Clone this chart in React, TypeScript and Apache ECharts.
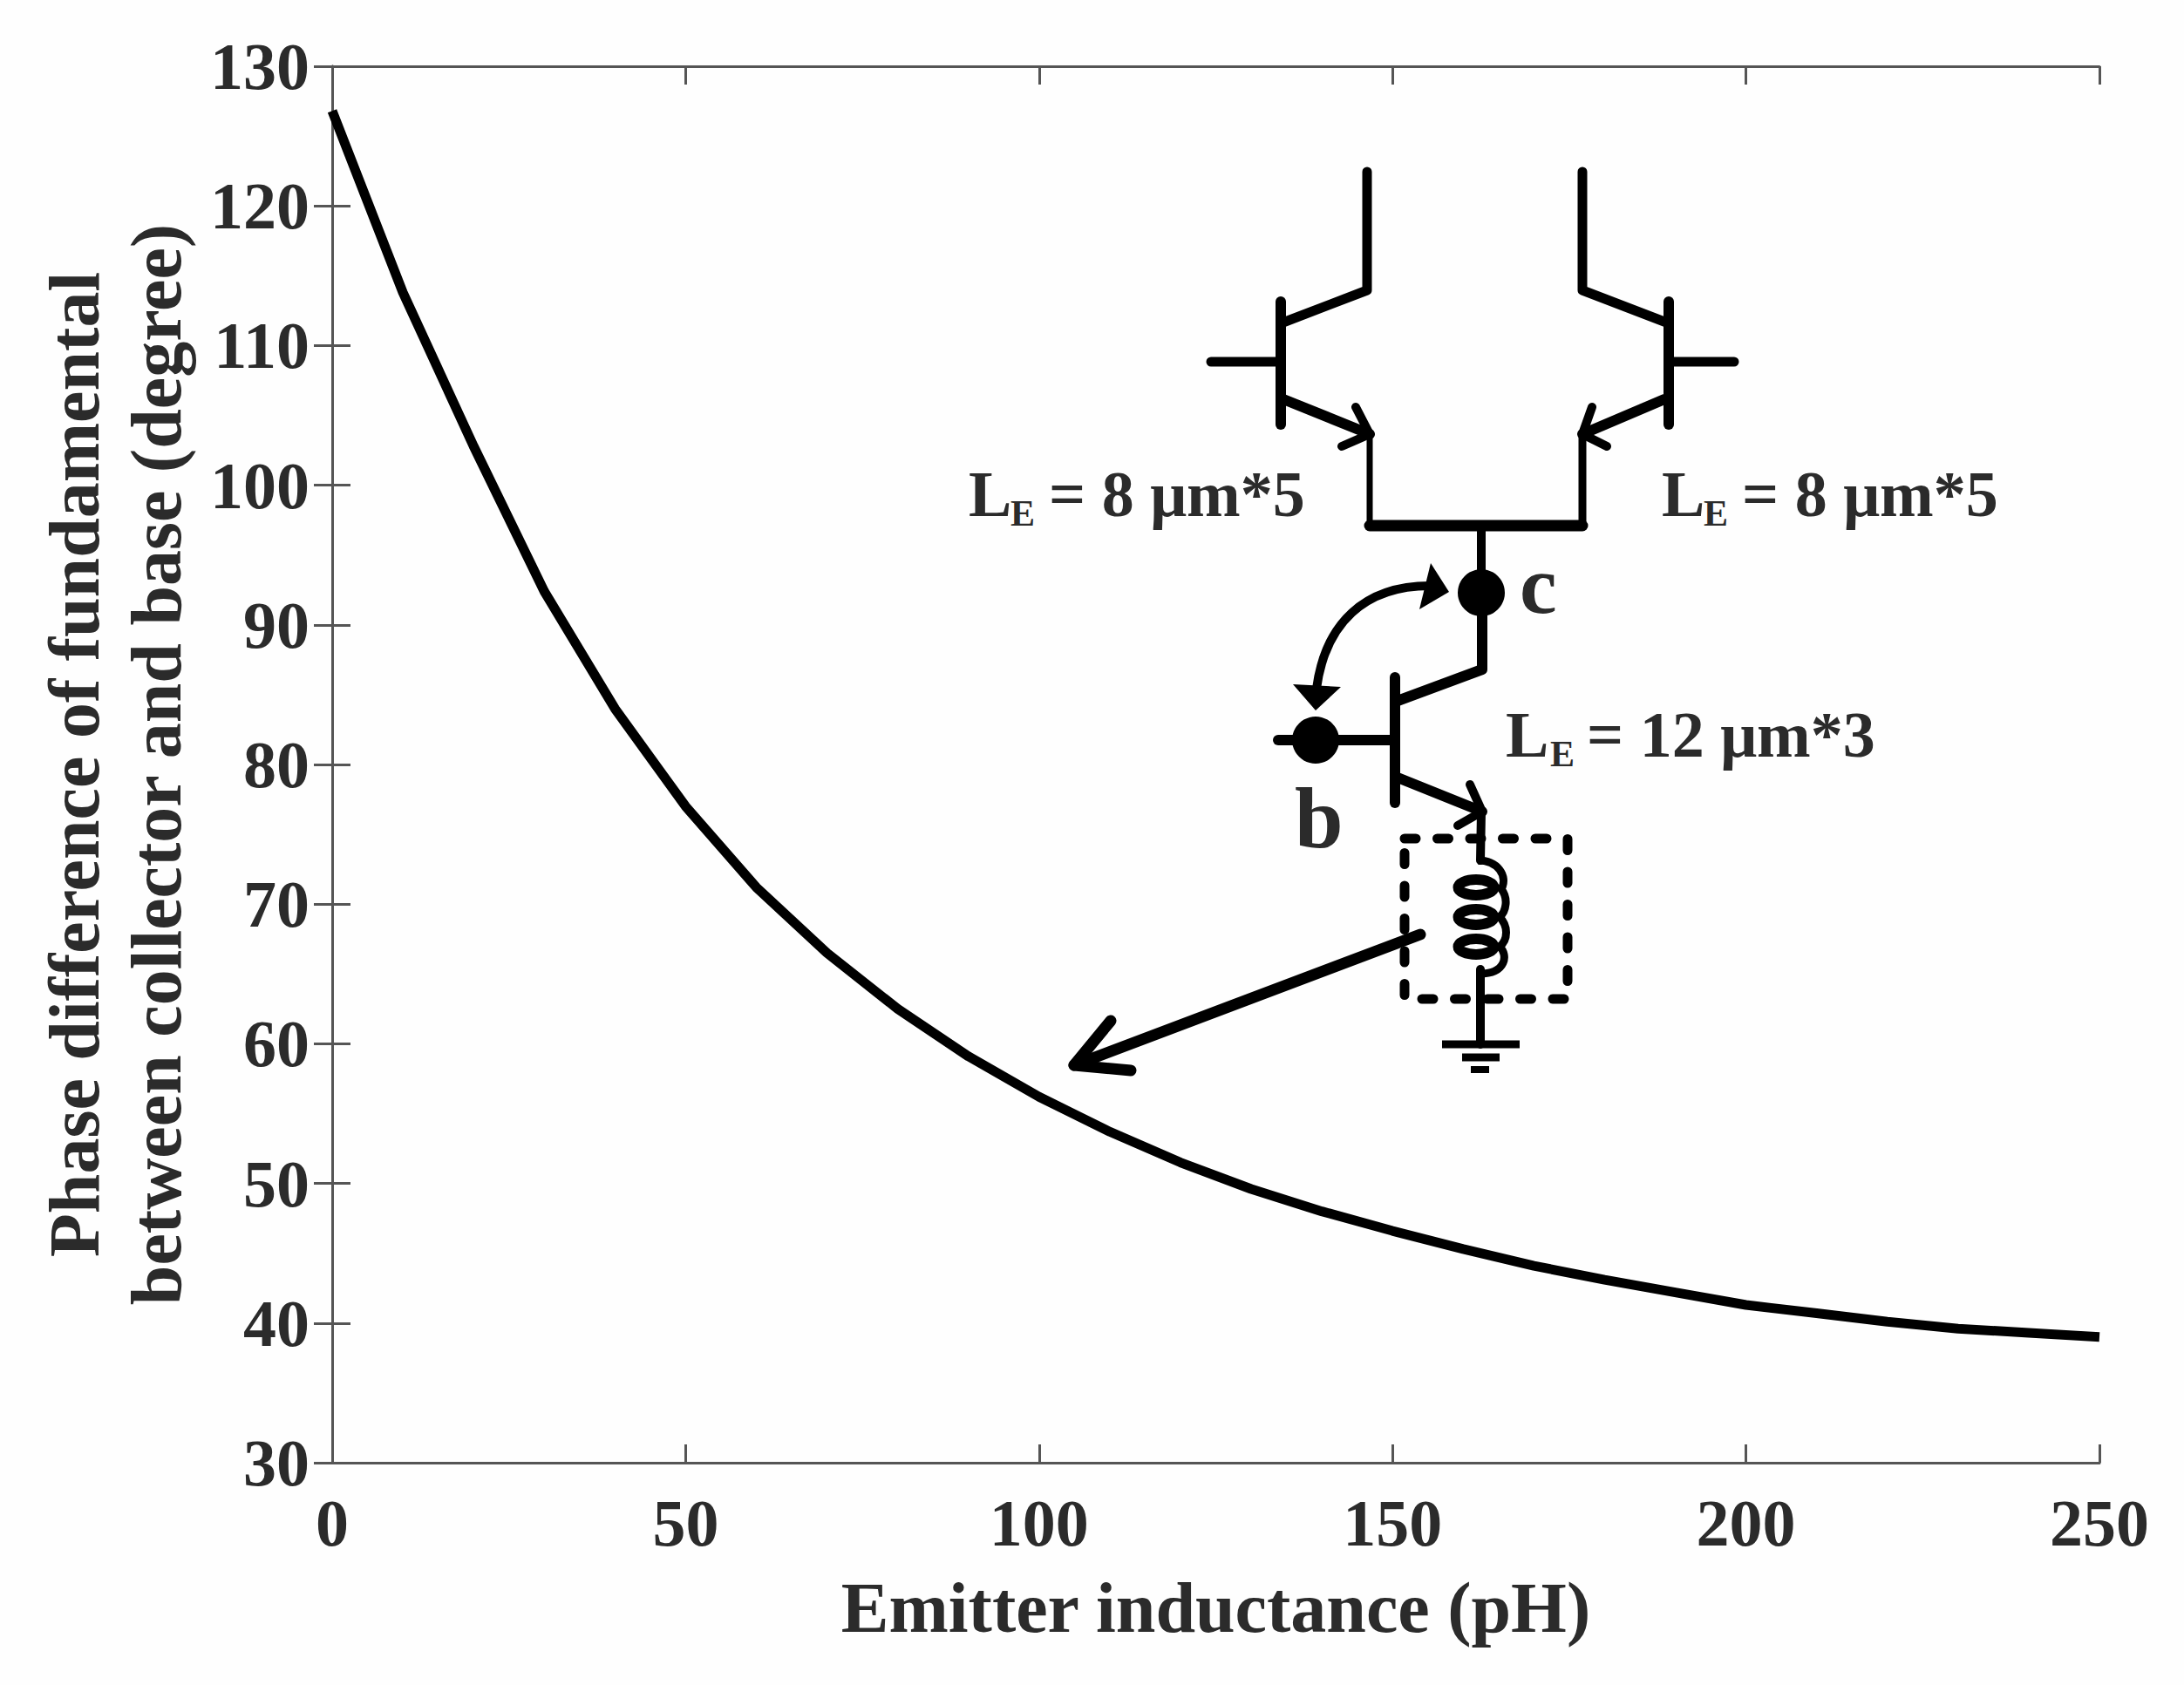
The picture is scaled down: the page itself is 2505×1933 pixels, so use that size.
import { useEffect, useRef } from 'react';
import * as echarts from 'echarts';

const inductance = [0, 10, 20, 30, 40, 50, 60, 70, 80, 90, 100, 110, 120, 130, 140, 150, 160, 170, 180, 190, 200, 210, 220, 230, 240, 250];
const phase = [126.8, 113.8, 102.8, 92.4, 84, 77, 71.2, 66.5, 62.5, 59.1, 56.2, 53.7, 51.5, 49.6, 48, 46.6, 45.3, 44.1, 43.1, 42.2, 41.3, 40.7, 40.1, 39.6, 39.3, 39];

const xTitle = 'Emitter inductance (pH)';
const yTitle = 'Phase difference of fundamental\nbetween collector and base (degree)';

const serif = '"Liberation Serif", "Times New Roman", serif';
const inkText = '#2b2b2b';
const axisGray = '#555555';

// schematic wires in page pixels: [points, line width]
const wires: [number[][], number][] = [
  [[[1568, 197], [1568, 333], [1469, 371]], 11],
  [[[1469, 346], [1469, 487]], 12],
  [[[1389, 415], [1469, 415]], 11],
  [[[1472, 458], [1571, 498]], 12],
  [[[1555, 467], [1571, 498], [1539, 512]], 10],
  [[[1571, 498], [1571, 602]], 7],
  [[[1815, 197], [1815, 333], [1914, 371]], 11],
  [[[1914, 346], [1914, 487]], 12],
  [[[1914, 415], [1989, 415]], 11],
  [[[1909, 458], [1815, 498]], 12],
  [[[1826, 467], [1815, 498], [1843, 512]], 10],
  [[[1815, 498], [1815, 602]], 9],
  [[[1571, 603], [1815, 603]], 13],
  [[[1699, 603], [1699, 680]], 10],
  [[[1700, 680], [1700, 768], [1603, 804]], 12],
  [[[1600, 777], [1600, 921]], 12],
  [[[1466, 849], [1598, 849]], 12],
  [[[1603, 892], [1700, 931]], 12],
  [[[1686, 900], [1700, 931], [1672, 947]], 10],
  [[[1699, 931], [1698, 987]], 10],
  [[[1698, 1112], [1698, 1198]], 10],
  [[[1629, 1072], [1232, 1222]], 13],
  [[[1274, 1171], [1232, 1222], [1297, 1228]], 13],
];

const groundBars = [
  [1654, 1743, 1198, 9],
  [1677, 1720, 1213, 9],
  [1687, 1708, 1227, 8],
];

const arrowHeads: number[][][] = [
  [[1662, 679], [1641, 646], [1628, 699]],
  [[1509, 815], [1483, 785], [1538, 788]],
];

const nodeDots = [
  [1699, 680],
  [1509, 849],
];

const coilRings = [
  [1693, 1018],
  [1693, 1052],
  [1693, 1086],
];

// text pieces: [text, x, baseline, font size]
const schematicTexts: [string, number, number, number][] = [
  ['L', 1111, 592, 74],
  ['E', 1159, 603, 42],
  ['= 8 μm*5', 1203, 592, 74],
  ['L', 1906, 592, 74],
  ['E', 1954, 603, 42],
  ['= 8 μm*5', 1998, 592, 74],
  ['L', 1727, 868, 74],
  ['E', 1778, 879, 42],
  ['= 12 μm*3', 1820, 868, 74],
  ['c', 1743, 703, 96],
  ['b', 1485, 972, 100],
];

const coilPath =
  'M1695 987 C1718 987 1730 1005 1722 1020 C1730 1030 1728 1045 1720 1052 C1730 1062 1730 1078 1720 1086 C1730 1095 1728 1117 1697 1117';
echarts.graphic.registerShape('coil', echarts.graphic.extendPath(coilPath, {}));

function buildGraphic() {
  const items: any[] = [];
  wires.forEach(([points, lineWidth]) => {
    items.push({
      type: 'polyline',
      shape: { points },
      style: { stroke: '#000', fill: 'none', lineWidth, lineCap: 'round', lineJoin: 'round' },
    });
  });
  groundBars.forEach(([x1, x2, y, lineWidth]) => {
    items.push({
      type: 'line',
      shape: { x1, y1: y, x2, y2: y },
      style: { stroke: '#000', lineWidth },
    });
  });
  arrowHeads.forEach((points) => {
    items.push({ type: 'polygon', shape: { points }, style: { fill: '#000' } });
  });
  nodeDots.forEach(([cx, cy]) => {
    items.push({ type: 'circle', shape: { cx, cy, r: 27 }, style: { fill: '#000' } });
  });
  coilRings.forEach(([cx, cy]) => {
    items.push({
      type: 'ellipse',
      shape: { cx, cy, rx: 20.5, ry: 9 },
      style: { stroke: '#000', fill: 'none', lineWidth: 12 },
    });
  });
  items.push({
    type: 'coil',
    style: { stroke: '#000', fill: 'none', lineWidth: 9 },
  });
  // curved double arrow between b and c
  items.push({
    type: 'bezierCurve',
    shape: { x1: 1510, y1: 790, cpx1: 1520, cpy1: 715, cpx2: 1565, cpy2: 672, x2: 1640, y2: 672 },
    style: { stroke: '#000', fill: 'none', lineWidth: 10 },
  });
  // dashed box round the inductor
  items.push({
    type: 'rect',
    shape: { x: 1611, y: 962, width: 187, height: 184 },
    style: { stroke: '#000', fill: 'none', lineWidth: 11, lineDash: [13, 24.5], lineCap: 'round' },
  });
  schematicTexts.forEach(([text, x, baseline, size]) => {
    items.push({
      type: 'text',
      x,
      y: baseline - size * 0.34,
      style: {
        text,
        fill: inkText,
        font: `bold ${size}px ${serif}`,
        textAlign: 'left',
        textVerticalAlign: 'middle',
      },
    });
  });
  return items;
}

export default function App() {
  const chartRef = useRef<HTMLDivElement>(null);

  useEffect(() => {
    if (!chartRef.current) return;

    const chart = echarts.init(chartRef.current, undefined, { renderer: 'svg' });

    const axisLine = { show: true, lineStyle: { color: axisGray, width: 3 } };
    const axisTick = { show: true, inside: true, length: 21, lineStyle: { color: axisGray, width: 3 } };
    const tickLabel = {
      color: inkText,
      fontFamily: serif,
      fontWeight: 'bold' as const,
      fontSize: 76,
    };

    chart.setOption({
      animation: false,
      backgroundColor: '#fefefe',
      grid: { left: 381, top: 76, width: 2027, height: 1602, containLabel: false, outerBoundsMode: 'none' },
      xAxis: [
        {
          type: 'value',
          min: 0,
          max: 250,
          interval: 50,
          position: 'bottom',
          axisLine,
          axisTick,
          splitLine: { show: false },
          axisLabel: { ...tickLabel, margin: 31 },
          name: xTitle,
          nameLocation: 'middle',
          nameGap: 125,
          nameTextStyle: { ...tickLabel, fontSize: 82 },
        },
        {
          type: 'value',
          min: 0,
          max: 250,
          interval: 50,
          position: 'top',
          axisLine,
          axisTick,
          splitLine: { show: false },
          axisLabel: { show: false },
        },
      ],
      yAxis: [
        {
          type: 'value',
          min: 30,
          max: 130,
          interval: 10,
          position: 'left',
          axisLine,
          axisTick,
          splitLine: { show: false },
          axisLabel: { ...tickLabel, margin: 26, padding: [6, 0, 0, 0] },
          name: yTitle,
          nameLocation: 'middle',
          nameGap: 155,
          nameTextStyle: { ...tickLabel, fontSize: 82, lineHeight: 94 },
        },
        {
          type: 'value',
          min: 30,
          max: 130,
          interval: 10,
          position: 'right',
          axisLine,
          axisTick,
          splitLine: { show: false },
          axisLabel: { show: false },
        },
      ],
      series: [
        {
          type: 'line',
          data: inductance.map((x, i) => [x, phase[i]]),
          showSymbol: false,
          clip: false,
          lineStyle: { color: '#000', width: 11 },
          z: 5,
        },
      ],
      graphic: buildGraphic(),
    });

    return () => {
      chart.dispose();
    };
  }, []);

  return <div ref={chartRef} style={{ position: 'absolute', left: 0, top: 0, width: 2505, height: 1933 }} />;
}
